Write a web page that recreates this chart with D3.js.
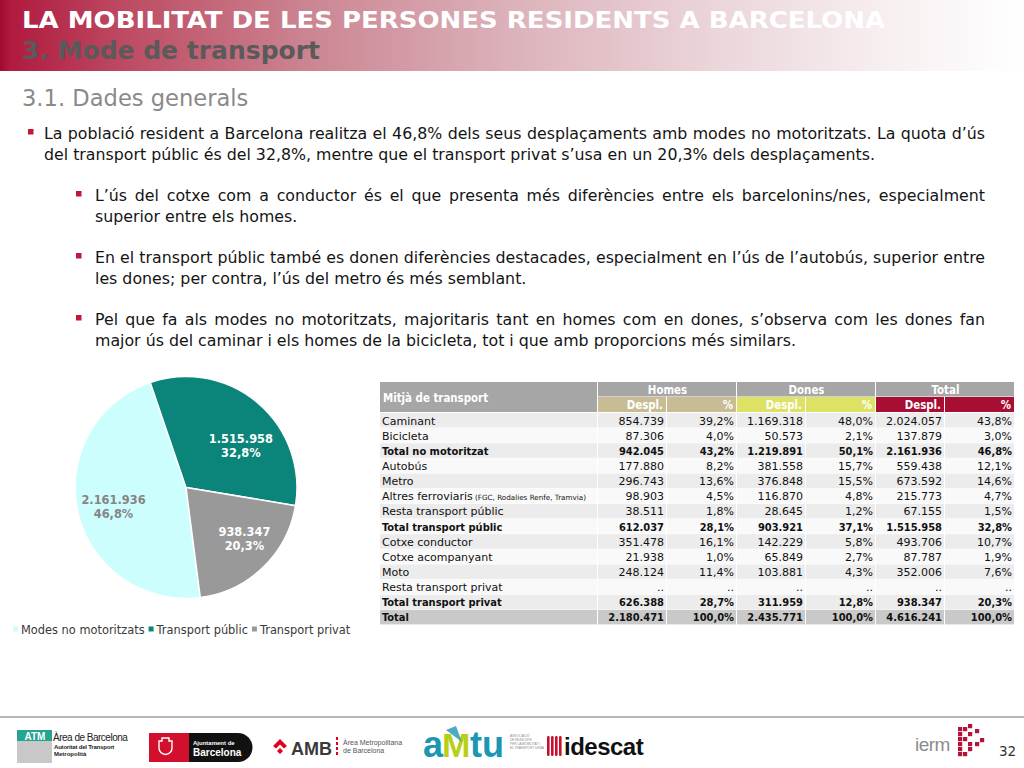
<!DOCTYPE html>
<html><head><meta charset="utf-8">
<script src="https://cdn.jsdelivr.net/npm/d3@7"></script>
<style>body{margin:0;background:#fff;overflow:hidden} svg{display:block}</style>
</head><body>
<svg id="c" width="1024" height="768"></svg>
<script>
// ---------- DATA ----------
const titleText = "LA MOBILITAT DE LES PERSONES RESIDENTS A BARCELONA";
const subtitleText = "3. Mode de transport";
const sectionText = "3.1. Dades generals";
const bullets = [
  {level: 0, lines: ["La població resident a Barcelona realitza el 46,8% dels seus desplaçaments amb modes no motoritzats. La quota d’ús",
                     "del transport públic és del 32,8%, mentre que el transport privat s’usa en un 20,3% dels desplaçaments."]},
  {level: 1, lines: ["L’ús del cotxe com a conductor és el que presenta més diferències entre els barcelonins/nes, especialment",
                     "superior entre els homes."]},
  {level: 1, lines: ["En el transport públic també es donen diferències destacades, especialment en l’ús de l’autobús, superior entre",
                     "les dones; per contra, l’ús del metro és més semblant."]},
  {level: 1, lines: ["Pel que fa als modes no motoritzats, majoritaris tant en homes com en dones, s’observa com les dones fan",
                     "major ús del caminar i els homes de la bicicleta, tot i que amb proporcions més similars."]}
];

const pieCategories = ["Modes no motoritzats", "Transport públic", "Transport privat"];
const pieValues = [2161936, 1515958, 938347];
const pieValueLabels = ["2.161.936", "1.515.958", "938.347"];
const piePctLabels = ["46,8%", "32,8%", "20,3%"];

const tableHeaderFirst = "Mitjà de transport";
const tableGroups = ["Homes", "Dones", "Total"];
const tableSubHeaders = ["Despl.", "%"];
const modes = ["Caminant", "Bicicleta", "Total no motoritzat", "Autobús", "Metro", "Altres ferroviaris",
  "Resta transport públic", "Total transport públic", "Cotxe conductor", "Cotxe acompanyant", "Moto",
  "Resta transport privat", "Total transport privat", "Total"];
const modeNotes = ["", "", "", "", "", "(FGC, Rodalies Renfe, Tramvia)", "", "", "", "", "", "", "", ""];
const homesDespl = ["854.739", "87.306", "942.045", "177.880", "296.743", "98.903", "38.511", "612.037", "351.478", "21.938", "248.124", "..", "626.388", "2.180.471"];
const homesPct = ["39,2%", "4,0%", "43,2%", "8,2%", "13,6%", "4,5%", "1,8%", "28,1%", "16,1%", "1,0%", "11,4%", "..", "28,7%", "100,0%"];
const donesDespl = ["1.169.318", "50.573", "1.219.891", "381.558", "376.848", "116.870", "28.645", "903.921", "142.229", "65.849", "103.881", "..", "311.959", "2.435.771"];
const donesPct = ["48,0%", "2,1%", "50,1%", "15,7%", "15,5%", "4,8%", "1,2%", "37,1%", "5,8%", "2,7%", "4,3%", "..", "12,8%", "100,0%"];
const totalDespl = ["2.024.057", "137.879", "2.161.936", "559.438", "673.592", "215.773", "67.155", "1.515.958", "493.706", "87.787", "352.006", "..", "938.347", "4.616.241"];
const totalPct = ["43,8%", "3,0%", "46,8%", "12,1%", "14,6%", "4,7%", "1,5%", "32,8%", "10,7%", "1,9%", "7,6%", "..", "20,3%", "100,0%"];

// ---------- DRAW ----------
const svg = d3.select("#c");
const SANS = "'DejaVu Sans', Verdana, sans-serif";
const COND = "'DejaVu Sans Condensed', 'DejaVu Sans', sans-serif";
const defs = svg.append("defs");

// Header band
const grad = defs.append("linearGradient").attr("id", "hdr").attr("x1", 0).attr("x2", 1).attr("y1", 0).attr("y2", 0);
[[0, "#a00a2c"], [0.01, "#b01a3e"], [0.12, "#bd4a62"], [0.3, "#cb8592"], [0.5, "#dcb2ba"], [0.7, "#ebd6da"], [0.88, "#f8f1f2"], [1, "#ffffff"]]
  .forEach(([o, c]) => grad.append("stop").attr("offset", o).attr("stop-color", c));
svg.append("rect").attr("x", 0).attr("y", 0).attr("width", 1024).attr("height", 71).attr("fill", "url(#hdr)");

svg.append("text").attr("x", 22).attr("y", 28).attr("font-family", COND).attr("font-weight", "bold")
  .attr("font-size", 23.5).attr("fill", "#fff").attr("textLength", 863).attr("lengthAdjust", "spacingAndGlyphs").text(titleText);
svg.append("text").attr("x", 22).attr("y", 58.5).attr("font-family", COND).attr("font-weight", "bold")
  .attr("font-size", 24).attr("fill", "#5a5a5a").attr("textLength", 298).attr("lengthAdjust", "spacingAndGlyphs").text(subtitleText);

svg.append("text").attr("x", 22).attr("y", 106).attr("font-family", SANS).attr("font-size", 22.6)
  .attr("fill", "#8a8a8a").text(sectionText);

// Bullets with justified text
const textG = svg.append("g").attr("font-family", SANS).attr("font-size", 15.8).attr("fill", "#141414");
const measurer = textG.append("text").attr("x", -1000).attr("y", -1000);
function measure(s) { measurer.text(s); return measurer.node().getComputedTextLength(); }
const rightEdge = 985;
const bulletBaselines = [[139, 160], [201, 222], [263, 284], [325, 346]];
bullets.forEach((b, bi) => {
  const tx = b.level === 0 ? 44 : 95;
  const bx = b.level === 0 ? 28 : 76;
  svg.append("rect").attr("x", bx).attr("y", bulletBaselines[bi][0] - 10).attr("width", 5.5).attr("height", 5.5).attr("fill", "#c3163f");
  b.lines.forEach((line, li) => {
    const y = bulletBaselines[bi][li];
    const justify = li < b.lines.length - 1;
    const t = textG.append("text").attr("y", y);
    if (!justify) { t.attr("x", tx).text(line); return; }
    const words = line.split(" ");
    const widths = words.map(measure);
    const gap = (rightEdge - tx - d3.sum(widths)) / (words.length - 1);
    let x = tx;
    words.forEach((w, wi) => { t.append("tspan").attr("x", x).text(w); x += widths[wi] + gap; });
  });
});
measurer.remove();

// Pie chart
const pieColors = ["#ccfefe", "#0b8579", "#999999"];
const pieLabelColors = ["#858585", "#ffffff", "#ffffff"];
const labelNudge = [[1, 1], [6, 15], [6, -4]]; // label placement tweaks (px)
const cx = 186, cy = 487.5, R = 111;
const a0 = 172.6 * Math.PI / 180;
const pie = d3.pie().sort(null).value(d => d).startAngle(a0).endAngle(a0 + 2 * Math.PI);
const arcs = pie(pieValues);
const arc = d3.arc().innerRadius(0).outerRadius(R);
const labelArc = d3.arc().innerRadius(R * 0.68).outerRadius(R * 0.68);
const pg = svg.append("g").attr("transform", `translate(${cx},${cy})`);
pg.selectAll("path").data(arcs).join("path").attr("d", arc)
  .attr("fill", (d, i) => pieColors[i]).attr("stroke", "#fff").attr("stroke-width", 1.5);
const lbl = pg.selectAll("text.lbl").data(arcs).join("text").attr("class", "lbl")
  .attr("transform", (d, i) => { const [x, y] = labelArc.centroid(d); return `translate(${x + labelNudge[i][0]},${y + labelNudge[i][1]})`; })
  .attr("text-anchor", "middle").attr("font-family", SANS).attr("font-weight", "bold").attr("font-size", 11.4)
  .attr("fill", (d, i) => pieLabelColors[i]);
lbl.append("tspan").attr("x", 0).attr("dy", "-0.15em").text((d, i) => pieValueLabels[i]);
lbl.append("tspan").attr("x", 0).attr("dy", "1.2em").text((d, i) => piePctLabels[i]);

// Legend
const lg = svg.append("g").attr("font-family", SANS).attr("font-size", 11.4).attr("fill", "#3a3a3a");
let lx = 13;
pieCategories.forEach((c, i) => {
  lg.append("rect").attr("x", lx).attr("y", 626.5).attr("width", 5).attr("height", 5).attr("fill", pieColors[i]);
  const t = lg.append("text").attr("x", lx + 8).attr("y", 633.5).text(c);
  lx += 8 + t.node().getComputedTextLength() + 4;
});

// Table
const colEdges = [380, 598, 667, 737, 806, 876, 945, 1015];
const columns = [homesDespl, homesPct, donesDespl, donesPct, totalDespl, totalPct];
const subColors = ["#c7bc93", "#dde264", "#a80d34"];
const tg = svg.append("g").attr("font-family", SANS).attr("font-size", 11);
const hdrGray = "#a6a6a6";
tg.append("rect").attr("x", colEdges[0]).attr("y", 382).attr("width", colEdges[1] - colEdges[0] - 1).attr("height", 30).attr("fill", hdrGray);
tg.append("text").attr("x", 383).attr("y", 401.5).attr("fill", "#fff").attr("font-weight", "bold").attr("font-family", COND).attr("font-size", 11.4).text(tableHeaderFirst);
tableGroups.forEach((g, gi) => {
  const x0 = colEdges[1 + gi * 2], x1 = colEdges[3 + gi * 2];
  tg.append("rect").attr("x", x0).attr("y", 382).attr("width", x1 - x0 - 1).attr("height", 14.5).attr("fill", hdrGray);
  tg.append("text").attr("x", (x0 + x1) / 2).attr("y", 393.5).attr("text-anchor", "middle").attr("fill", "#fff")
    .attr("font-weight", "bold").attr("font-family", COND).attr("font-size", 11.4).text(g);
  tableSubHeaders.forEach((s, si) => {
    const c0 = colEdges[1 + gi * 2 + si], c1 = colEdges[2 + gi * 2 + si];
    tg.append("rect").attr("x", c0).attr("y", 397).attr("width", c1 - c0 - 1).attr("height", 15).attr("fill", subColors[gi]);
    tg.append("text").attr("x", c1 - 4).attr("y", 408.5).attr("text-anchor", "end").attr("fill", "#fff")
      .attr("font-weight", "bold").attr("font-family", COND).attr("font-size", 11.4).text(s);
  });
});
const yRow = d3.scaleBand().domain(d3.range(modes.length)).range([413, 625]);
modes.forEach((m, i) => {
  const bold = m.startsWith("Total");
  const bg = i === modes.length - 1 ? "#c9c9c9" : (i % 2 === 0 ? "#ececec" : "#f9f9f9");
  const y0 = yRow(i), h = yRow.bandwidth();
  for (let c = 0; c < colEdges.length - 1; c++) {
    tg.append("rect").attr("x", colEdges[c]).attr("y", y0).attr("width", colEdges[c + 1] - colEdges[c] - 1)
      .attr("height", h - 0.6).attr("fill", bg);
  }
  const by = y0 + h / 2 + 4;
  const lt = tg.append("text").attr("x", 382).attr("y", by).attr("fill", "#111");
  if (bold) lt.attr("font-weight", "bold").attr("font-family", COND);
  lt.append("tspan").text(m);
  if (modeNotes[i]) lt.append("tspan").attr("font-size", 7.2).text(" " + modeNotes[i]);
  columns.forEach((col, ci) => {
    const t = tg.append("text").attr("x", colEdges[ci + 2] - 3).attr("y", by).attr("text-anchor", "end").attr("fill", "#111").text(col[i]);
    if (bold) t.attr("font-weight", "bold").attr("font-family", COND);
  });
});

// Footer
svg.append("line").attr("x1", 0).attr("x2", 1024).attr("y1", 717).attr("y2", 717).attr("stroke", "#b8b8b8").attr("stroke-width", 2);
const fg = svg.append("g").attr("font-family", "'Liberation Sans', Arial, sans-serif");
// ATM
fg.append("rect").attr("x", 17).attr("y", 730).attr("width", 35).attr("height", 33).attr("fill", "#c8c8c8");
fg.append("rect").attr("x", 17).attr("y", 730).attr("width", 35).attr("height", 11).attr("fill", "#25a48f");
fg.append("text").attr("x", 35).attr("y", 739.5).attr("text-anchor", "middle").attr("font-weight", "bold").attr("font-size", 10).attr("fill", "#fff").text("ATM");
fg.append("text").attr("x", 53).attr("y", 741).attr("font-size", 10).attr("fill", "#222").attr("letter-spacing", -0.5).text("Àrea de Barcelona");
fg.append("text").attr("x", 54).attr("y", 749).attr("font-size", 6).attr("font-weight", "bold").attr("fill", "#222").attr("letter-spacing", -0.2).text("Autoritat del Transport");
fg.append("text").attr("x", 54).attr("y", 755.5).attr("font-size", 6).attr("font-weight", "bold").attr("fill", "#222").text("Metropolità");
// Ajuntament
fg.append("path").attr("d", "M149,733 H238 A14.5,14.5 0 0 1 238,762 H149 Z").attr("fill", "#111");
fg.append("rect").attr("x", 149).attr("y", 733).attr("width", 40).attr("height", 29).attr("fill", "#d2102e");
fg.append("path").attr("d", "M162,738 h7 v3 h3 v7 a6,6 0 0 1 -13,0 v-7 h3 Z").attr("fill", "none").attr("stroke", "#fff").attr("stroke-width", 1.4);
fg.append("text").attr("x", 193).attr("y", 745).attr("font-size", 6).attr("font-weight", "bold").attr("fill", "#fff").text("Ajuntament de");
fg.append("text").attr("x", 193).attr("y", 756).attr("font-size", 10).attr("font-weight", "bold").attr("fill", "#fff").text("Barcelona");
// AMB
fg.append("path").attr("d", "M273,746 L280,739 L287,746 L284,748.5 L280,744.5 L276,748.5 Z").attr("fill", "#e3001b");
fg.append("path").attr("d", "M280,748 L283,751 L280,754 L277,751 Z").attr("fill", "#e3001b");
fg.append("text").attr("x", 291).attr("y", 755).attr("font-size", 18).attr("font-weight", "bold").attr("fill", "#3a3a3a").text("AMB");
fg.append("line").attr("x1", 337).attr("x2", 337).attr("y1", 737).attr("y2", 757).attr("stroke", "#e3001b").attr("stroke-width", 2).attr("stroke-dasharray", "3,2");
fg.append("text").attr("x", 343).attr("y", 745).attr("font-size", 7).attr("fill", "#555").text("Àrea Metropolitana");
fg.append("text").attr("x", 343).attr("y", 753).attr("font-size", 7).attr("fill", "#555").text("de Barcelona");
// aMtu
fg.append("text").attr("x", 423).attr("y", 757).attr("font-size", 36).attr("font-weight", "bold").attr("fill", "#1b97b4").text("a");
fg.append("text").attr("x", 442).attr("y", 757).attr("font-size", 34).attr("font-weight", "bold").attr("fill", "#b8cf1a").text("M");
fg.append("path").attr("d", "M446,730 L456,726 L462,742 Z").attr("fill", "#1b97b4").attr("opacity", 0.8);
fg.append("text").attr("x", 470).attr("y", 757).attr("font-size", 36).attr("font-weight", "bold").attr("fill", "#1b97b4").text("tu");
["ASSOCIACIÓ", "DE MUNICIPIS", "PER LA MOBILITAT I", "EL TRANSPORT URBÀ"].forEach((s, i) =>
  fg.append("text").attr("x", 510).attr("y", 737 + i * 4).attr("font-size", 3.2).attr("fill", "#888").text(s));
// idescat
[0, 1, 2, 3].forEach(i => fg.append("rect").attr("x", 547 + i * 4).attr("y", 736).attr("width", 2.6).attr("height", 20).attr("rx", 1.2).attr("fill", "#c8102e"));
fg.append("text").attr("x", 564).attr("y", 755).attr("font-size", 24).attr("font-weight", "bold").attr("fill", "#111").attr("letter-spacing", -0.5).text("idescat");
// iermb
fg.append("text").attr("x", 915).attr("y", 751).attr("font-size", 19).attr("fill", "#8c8c8c").attr("letter-spacing", -0.5).text("ierm");
[[958, 727], [963, 727], [968, 724], [958, 732], [968, 732], [975, 729], [958, 737], [963, 737], [958, 742], [968, 742], [975, 742], [958, 747], [968, 747], [963, 752], [958, 752], [980, 738]]
  .forEach(([x, y]) => fg.append("rect").attr("x", x).attr("y", y).attr("width", 4.2).attr("height", 4.2).attr("fill", "#b3123a"));
fg.append("text").attr("x", 999).attr("y", 756).attr("font-family", SANS).attr("font-size", 13.5).attr("fill", "#333").text("32");
</script>
</body></html>
